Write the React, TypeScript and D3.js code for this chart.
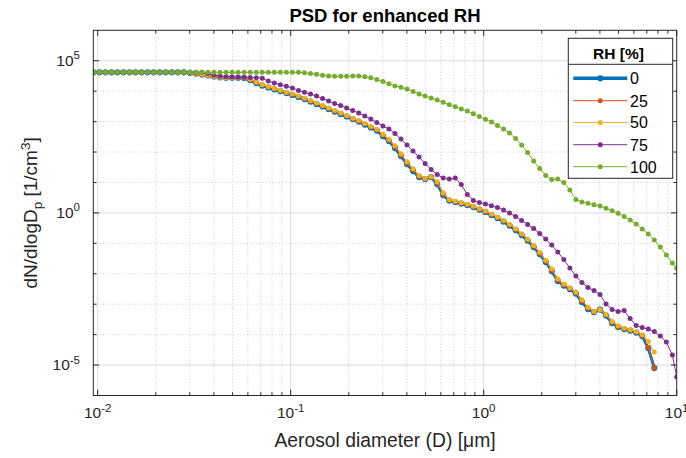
import React from "react";
import * as d3 from "d3";

// Diameter grid (µm) shared by all series
const diameters = [
  0.0095, 0.01021, 0.01097, 0.01179, 0.01267, 0.01361, 0.01463, 0.01572, 0.01689, 0.01815,
  0.0195, 0.02096, 0.02252, 0.0242, 0.02601, 0.02795, 0.03004, 0.03228, 0.03469, 0.03728,
  0.04006, 0.04305, 0.04626, 0.04971, 0.05342, 0.05741, 0.06169, 0.06629, 0.07124, 0.07655,
  0.08226, 0.0884,
  0.095, 0.1021, 0.1097, 0.1179, 0.1267, 0.1361, 0.1463, 0.1572, 0.1689, 0.1815,
  0.195, 0.2096, 0.2252, 0.242, 0.2601, 0.2795, 0.3004, 0.3228, 0.3469, 0.3728,
  0.4006, 0.4305, 0.4626, 0.4971, 0.5342, 0.5741, 0.6169, 0.6629, 0.7124, 0.7655,
  0.8226, 0.884,
  0.95, 1.021, 1.097, 1.179, 1.267, 1.361, 1.463, 1.572, 1.689, 1.815,
  1.95, 2.096, 2.252, 2.42, 2.601, 2.795, 3.004, 3.228, 3.469, 3.728,
  4.006, 4.305, 4.626, 4.971, 5.342, 5.741, 6.169, 6.629, 7.124, 7.655,
  8.226, 8.84, 9.5, 10.0,
];

const rhLevels = ["0", "25", "50", "75", "100"];

const psdRH0 = [
  4.16e4, 4.16e4, 4.16e4, 4.16e4, 4.16e4, 4.16e4, 4.16e4, 4.16e4, 4.16e4, 4.16e4,
  4.16e4, 4.16e4, 4.16e4, 4.16e4, 4.16e4, 4.16e4, 4.0e4, 3.79e4, 3.52e4, 3.27e4,
  3.03e4, 2.85e4, 2.76e4, 2.76e4, 2.76e4, 2.7e4, 2.32e4, 1.85e4, 1.53e4, 1.32e4,
  1.15e4, 1.01e4, 8680, 7470, 6420, 5510, 4560, 3780, 3130, 2590,
  2140, 1770, 1470, 1210, 1000, 800, 638, 508, 335, 230,
  135, 73.8, 40.3, 23.7, 15.1, 12.9, 15.1, 8.87, 3.86, 2.55,
  2.27, 2.03, 1.81, 1.56, 1.29, 1.07, 0.851, 0.678, 0.52, 0.384,
  0.273, 0.187, 0.123, 0.0755, 0.0445, 0.0243, 0.0123, 0.00575, 0.00409, 0.00315,
  0.00224, 0.00117, 6.92e-4, 5.52e-4, 6.67e-4, 4.24e-4, 2.4e-4, 1.77e-4, 1.52e-4, 1.36e-4,
  1.17e-4, 8.97e-5, 3.62e-5, 7.98e-6,
];

const psdRH25 = [
  4.16e4, 4.16e4, 4.16e4, 4.16e4, 4.16e4, 4.16e4, 4.16e4, 4.16e4, 4.16e4, 4.16e4,
  4.16e4, 4.16e4, 4.16e4, 4.16e4, 4.16e4, 4.16e4, 4.02e4, 3.82e4, 3.56e4, 3.3e4,
  3.06e4, 2.87e4, 2.77e4, 2.76e4, 2.76e4, 2.72e4, 2.38e4, 1.9e4, 1.58e4, 1.36e4,
  1.19e4, 1.04e4, 8950, 7700, 6620, 5680, 4700, 3900, 3230, 2670,
  2210, 1830, 1520, 1250, 1030, 830, 662, 530, 355, 245,
  145, 79, 43, 25.5, 15.8, 13.1, 15.2, 9.4, 4.1, 2.62,
  2.32, 2.07, 1.85, 1.6, 1.32, 1.1, 0.875, 0.7, 0.537, 0.397,
  0.283, 0.194, 0.128, 0.079, 0.0467, 0.0257, 0.0131, 0.0061, 0.00425, 0.00327,
  0.00234, 0.00125, 7.3e-4, 5.6e-4, 6.6e-4, 4.4e-4, 2.5e-4, 1.83e-4, 1.56e-4, 1.4e-4,
  1.2e-4, 9.3e-5, 3.8e-5, 7.98e-6,
];

const psdRH50 = [
  4.16e4, 4.16e4, 4.16e4, 4.16e4, 4.16e4, 4.16e4, 4.16e4, 4.16e4, 4.16e4, 4.16e4,
  4.16e4, 4.16e4, 4.16e4, 4.16e4, 4.16e4, 4.16e4, 4.05e4, 3.85e4, 3.6e4, 3.35e4,
  3.1e4, 2.9e4, 2.78e4, 2.76e4, 2.76e4, 2.74e4, 2.45e4, 1.98e4, 1.64e4, 1.41e4,
  1.23e4, 1.08e4, 9300, 8000, 6900, 5900, 4900, 4050, 3360, 2780,
  2300, 1900, 1580, 1300, 1080, 870, 695, 560, 385, 265,
  160, 88, 48, 28, 17, 13.5, 15.5, 10.5, 4.6, 2.75,
  2.4, 2.15, 1.92, 1.66, 1.38, 1.15, 0.92, 0.735, 0.565, 0.42,
  0.3, 0.207, 0.137, 0.085, 0.051, 0.028, 0.0145, 0.0068, 0.0046, 0.0035,
  0.0025, 0.0014, 8.0e-4, 5.8e-4, 6.6e-4, 4.6e-4, 2.7e-4, 1.95e-4, 1.62e-4, 1.45e-4,
  1.25e-4, 1.0e-4, 6.0e-5, 2.67e-5,
];

const psdRH75 = [
  4.16e4, 4.16e4, 4.16e4, 4.16e4, 4.16e4, 4.16e4, 4.16e4, 4.16e4, 4.16e4, 4.16e4,
  4.16e4, 4.16e4, 4.16e4, 4.16e4, 4.16e4, 4.16e4, 4.16e4, 4.16e4, 4.16e4, 3.79e4,
  3.39e4, 3.14e4, 2.98e4, 2.91e4, 2.85e4, 2.85e4, 2.81e4, 2.76e4, 2.64e4, 2.15e4,
  1.85e4, 1.63e4, 1.44e4, 1.27e4, 1.06e4, 9160, 8050, 6920, 5730, 4740,
  3930, 3370, 2790, 2310, 1910, 1520, 1210, 931, 715, 570,
  405, 267, 170, 108, 68.5, 41.9, 26.6, 18.2, 14.0, 12.9,
  14.0, 8.55, 4.01, 2.55, 2.19, 1.95, 1.72, 1.5, 1.24, 0.989,
  0.759, 0.561, 0.414, 0.306, 0.21, 0.138, 0.0878, 0.0517, 0.0293, 0.0154,
  0.00841, 0.00514, 0.00352, 0.00281, 0.00207, 0.00101, 6.67e-4, 5.73e-4, 6.18e-4, 3.37e-4,
  1.99e-4, 1.71e-4, 1.52e-4, 1.26e-4, 8.97e-5, 5.7e-5, 2.13e-5, 4.03e-6,
];

const psdRH100 = [
  4.16e4, 4.16e4, 4.16e4, 4.16e4, 4.16e4, 4.16e4, 4.16e4, 4.16e4, 4.16e4, 4.16e4,
  4.16e4, 4.16e4, 4.16e4, 4.16e4, 4.16e4, 4.16e4, 4.16e4, 4.16e4, 4.16e4, 4.16e4,
  4.16e4, 4.16e4, 4.16e4, 4.16e4, 4.16e4, 4.16e4, 4.16e4, 4.16e4, 4.16e4, 4.16e4,
  4.16e4, 4.16e4, 4.16e4, 4.16e4, 4.16e4, 4.0e4, 3.79e4, 3.57e4, 3.31e4, 3.14e4,
  3.1e4, 3.07e4, 3.1e4, 3.14e4, 3.14e4, 3.0e4, 2.76e4, 2.41e4, 2.07e4, 1.76e4,
  1.49e4, 1.34e4, 1.17e4, 9730, 8050, 6920, 5950, 5110, 4330, 3580,
  3050, 2590, 2220, 1810, 1470, 1190, 967, 743, 570, 421,
  277, 170, 96.1, 50.6, 28.7, 16.9, 12.5, 12.9, 9.94, 5.64,
  2.75, 2.27, 2.08, 1.87, 1.68, 1.42, 1.18, 0.974, 0.759, 0.582,
  0.43, 0.295, 0.202, 0.128, 0.0755, 0.0412, 0.0225, 0.0151,
];

const seriesColors = ["#0072BD", "#D95319", "#EDB120", "#7E2F8E", "#77AC30"];
const seriesWidths = [3, 1, 1, 1, 1];
const seriesRadius = [3.1, 2.5, 2.5, 2.5, 2.5];

const xMajorTicks = [0.01, 0.1, 1, 10];
const xTickExponents = ["-2", "-1", "0", "1"];
const yMajorTicks = [1e-5, 1, 1e5];
const yTickExponents = ["-5", "0", "5"];
const yMinorTicks = [1e-4, 1e-3, 1e-2, 1e-1, 1e1, 1e2, 1e3, 1e4];

const FONT = "'Liberation Sans', Arial, Helvetica, sans-serif";
const AXIS = "#262626";

export default function App() {
  const W = 686, H = 458;
  const L = 93.3, R = 676.7, T = 30.3, B = 395.5;
  const x = d3.scaleLog().domain([0.00949, 10]).range([L, R]);
  const y = d3.scaleLog().domain([1e-6, 1e6]).range([B, T]);

  const seriesValues = [psdRH0, psdRH25, psdRH50, psdRH75, psdRH100];
  const line = d3
    .line<number>()
    .x((_, i) => x(diameters[i]))
    .y((d) => y(d));

  const xMinor: number[] = [];
  [0.01, 0.1, 1].forEach((dec) => {
    for (let k = 2; k <= 9; k++) xMinor.push(k * dec);
  });

  const majTick = 5.8;
  const minTick = 3.2;

  const legX = 568.3, legY = 38.3, legW = 104.4, legH = 140;
  const legRowY = [78.3, 100.7, 122.6, 144.7, 166.7];

  return (
    <div style={{ position: "absolute", left: 0, top: 0 }}>
      <svg width={W} height={H} style={{ display: "block", background: "#fff" }}>
        <defs>
          <clipPath id="plotClip">
            <rect x={L} y={T} width={R - L} height={B - T} />
          </clipPath>
        </defs>
        <rect x={0} y={0} width={W} height={H} fill="#fff" />
        {/* minor grid */}
        <g stroke="#bdbdbd" strokeWidth={0.8} strokeDasharray="1 2.2">
          {xMinor.map((v) => (
            <line key={"xm" + v} x1={x(v)} x2={x(v)} y1={T} y2={B} />
          ))}
          {yMinorTicks.map((v) => (
            <line key={"ym" + v} x1={L} x2={R} y1={y(v)} y2={y(v)} />
          ))}
        </g>
        {/* major grid */}
        <g stroke="#dcdcdc" strokeWidth={1}>
          {xMajorTicks.slice(0, 3).map((v) => (
            <line key={"xg" + v} x1={x(v)} x2={x(v)} y1={T} y2={B} />
          ))}
          {yMajorTicks.map((v) => (
            <line key={"yg" + v} x1={L} x2={R} y1={y(v)} y2={y(v)} />
          ))}
        </g>
        {/* series */}
        <g clipPath="url(#plotClip)">
          {seriesValues.map((vals, s) => (
            <g key={"s" + s}>
              <path
                d={line(vals) || ""}
                fill="none"
                stroke={seriesColors[s]}
                strokeWidth={seriesWidths[s]}
                strokeLinejoin="round"
              />
              {vals.map((v, i) => (
                <circle
                  key={i}
                  cx={x(diameters[i])}
                  cy={y(v)}
                  r={seriesRadius[s]}
                  fill={seriesColors[s]}
                />
              ))}
            </g>
          ))}
        </g>
        {/* axes box and ticks */}
        <g stroke={AXIS} strokeWidth={1} fill="none">
          <rect x={L} y={T} width={R - L} height={B - T} />
          {xMajorTicks.map((v) => (
            <g key={"xt" + v}>
              <line x1={x(v)} x2={x(v)} y1={B} y2={B - majTick} />
              <line x1={x(v)} x2={x(v)} y1={T} y2={T + majTick} />
            </g>
          ))}
          {xMinor.map((v) => (
            <g key={"xmt" + v}>
              <line x1={x(v)} x2={x(v)} y1={B} y2={B - minTick} />
              <line x1={x(v)} x2={x(v)} y1={T} y2={T + minTick} />
            </g>
          ))}
          {yMajorTicks.map((v) => (
            <g key={"yt" + v}>
              <line x1={L} x2={L + majTick} y1={y(v)} y2={y(v)} />
              <line x1={R} x2={R - majTick} y1={y(v)} y2={y(v)} />
            </g>
          ))}
          {yMinorTicks.map((v) => (
            <g key={"ymt" + v}>
              <line x1={L} x2={L + minTick} y1={y(v)} y2={y(v)} />
              <line x1={R} x2={R - minTick} y1={y(v)} y2={y(v)} />
            </g>
          ))}
        </g>
        {/* tick labels */}
        <g fontFamily={FONT} fill={AXIS}>
          {xMajorTicks.map((v, i) => (
            <text key={"xl" + v} x={x(v)} y={418} textAnchor="middle" fontSize={15.5}>
              10
              <tspan dy={-6.5} fontSize={11.5}>
                {xTickExponents[i]}
              </tspan>
            </text>
          ))}
          {yMajorTicks.map((v, i) => (
            <text key={"yl" + v} x={80} y={y(v) + 5} textAnchor="end" fontSize={15.5}>
              10
              <tspan dy={-6.5} fontSize={11.5}>
                {yTickExponents[i]}
              </tspan>
            </text>
          ))}
        </g>
        {/* axis labels and title */}
        <text
          x={(L + R) / 2}
          y={22}
          textAnchor="middle"
          fontFamily={FONT}
          fontSize={18.5}
          fontWeight="bold"
          fill="#000"
        >
          PSD for enhanced RH
        </text>
        <text
          x={(L + R) / 2}
          y={446.5}
          textAnchor="middle"
          fontFamily={FONT}
          fontSize={19.3}
          fill={AXIS}
        >
          Aerosol diameter (D) [μm]
        </text>
        <text
          transform={`translate(37,${(T + B) / 2}) rotate(-90)`}
          textAnchor="middle"
          fontFamily={FONT}
          fontSize={19}
          fill={AXIS}
        >
          dN/dlogD
          <tspan dy={5} fontSize={13.5}>p</tspan>
          <tspan dy={-5}> [1/cm</tspan>
          <tspan dy={-7.5} fontSize={13.5}>3</tspan>
          <tspan dy={7.5}>]</tspan>
        </text>
        {/* legend */}
        <g>
          <rect x={legX} y={legY} width={legW} height={legH} fill="#fff" stroke={AXIS} strokeWidth={1} />
          <line x1={legX} x2={legX + legW} y1={64.3} y2={64.3} stroke={AXIS} strokeWidth={1} />
          <text
            x={618.5}
            y={58.5}
            textAnchor="middle"
            fontFamily={FONT}
            fontSize={15.5}
            fontWeight="bold"
            fill="#000"
          >
            RH [%]
          </text>
          {rhLevels.map((lab, s) => (
            <g key={"lg" + s}>
              <line
                x1={573.3}
                x2={627.3}
                y1={legRowY[s]}
                y2={legRowY[s]}
                stroke={seriesColors[s]}
                strokeWidth={seriesWidths[s] + (s === 0 ? 0.5 : 0)}
              />
              <circle cx={600.3} cy={legRowY[s]} r={seriesRadius[s]} fill={seriesColors[s]} />
              <text x={630} y={legRowY[s] + 5.8} fontFamily={FONT} fontSize={16} fill="#000">
                {lab}
              </text>
            </g>
          ))}
        </g>
      </svg>
    </div>
  );
}
